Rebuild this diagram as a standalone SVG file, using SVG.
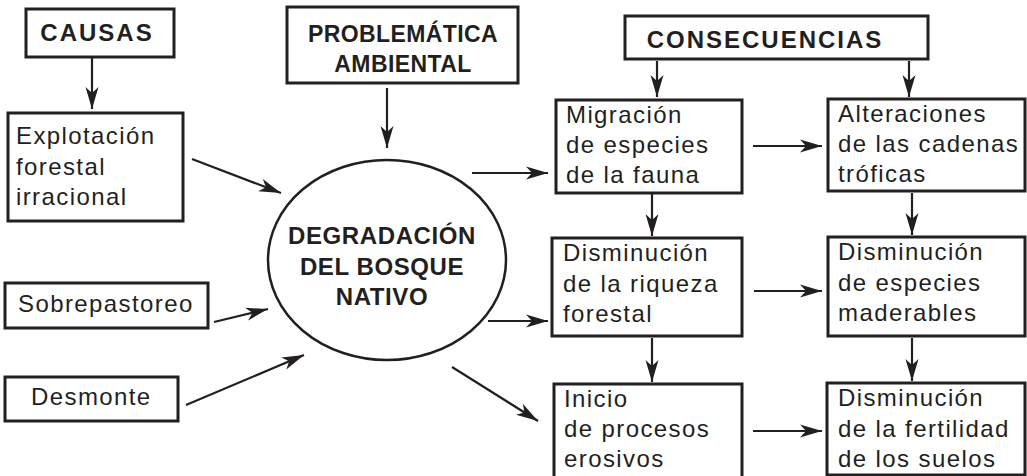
<svg xmlns="http://www.w3.org/2000/svg" width="1027" height="476" viewBox="0 0 1027 476">
<style>
.box{fill:#fff;stroke:#231f20;stroke-width:3}
.ell{fill:#fff;stroke:#231f20;stroke-width:2.5}
.t{font-family:"Liberation Sans",Arial,sans-serif;font-size:24px;fill:#231f20;letter-spacing:1.4px}
.h{font-family:"Liberation Sans",Arial,sans-serif;font-size:24px;font-weight:bold;fill:#231f20;text-anchor:middle}
.c line{stroke:#231f20;stroke-width:2.2;marker-end:url(#ah)}
</style>
<defs>
<marker id="ah" markerUnits="userSpaceOnUse" markerWidth="24" markerHeight="14" refX="22" refY="6.5" orient="auto" viewBox="0 0 24 13">
<path d="M0,0 L22,6.5 L0,13 L6,6.5 z" fill="#231f20"/>
</marker>
</defs>
<rect width="1027" height="476" fill="#fff"/>
<g class="c">
<line x1="92" y1="57" x2="92" y2="109"/>
<line x1="192" y1="159" x2="281" y2="193"/>
<line x1="387" y1="88" x2="387" y2="148"/>
<line x1="214" y1="322" x2="268" y2="309"/>
<line x1="186" y1="405" x2="304" y2="355"/>
<line x1="472" y1="173" x2="548" y2="173"/>
<line x1="488" y1="321" x2="548" y2="321"/>
<line x1="452" y1="367" x2="538" y2="421"/>
<line x1="657" y1="61" x2="657" y2="97"/>
<line x1="909" y1="61" x2="909" y2="97"/>
<line x1="753" y1="146" x2="822" y2="146"/>
<line x1="652" y1="194" x2="652" y2="236"/>
<line x1="912" y1="193" x2="912" y2="235"/>
<line x1="754" y1="291" x2="822" y2="291"/>
<line x1="652" y1="338" x2="652" y2="382"/>
<line x1="912" y1="338" x2="912" y2="381"/>
<line x1="753" y1="431" x2="822" y2="431"/>
</g>
<g id="causas">
<rect class="box" x="26" y="9" width="148" height="48"/>
<text class="h" x="97" y="41" style="letter-spacing:2px">CAUSAS</text>
</g>
<g id="problematica">
<rect class="box" x="287" y="7" width="231" height="76"/>
<text class="h" x="403" y="42" style="font-size:23px;letter-spacing:0.4px">PROBLEMÁTICA</text>
<text class="h" x="403" y="72" style="font-size:23px;letter-spacing:0.4px">AMBIENTAL</text>
</g>
<g id="consecuencias">
<rect class="box" x="625" y="16" width="303" height="43"/>
<text class="h" x="765" y="48" style="letter-spacing:2px">CONSECUENCIAS</text>
</g>
<g id="explotacion">
<rect class="box" x="8" y="113" width="175" height="108"/>
<text class="t" x="16" y="144">Explotación</text>
<text class="t" x="16" y="175">forestal</text>
<text class="t" x="16" y="205">irracional</text>
</g>
<g id="sobrepastoreo">
<rect class="box" x="5" y="283" width="203" height="45"/>
<text class="t" x="18" y="312">Sobrepastoreo</text>
</g>
<g id="desmonte">
<rect class="box" x="5" y="377" width="173" height="44"/>
<text class="t" x="31" y="405">Desmonte</text>
</g>
<g id="degradacion">
<ellipse class="ell" cx="387" cy="260" rx="119" ry="100"/>
<text class="h" x="382" y="244" style="letter-spacing:0.6px">DEGRADACIÓN</text>
<text class="h" x="382" y="275" style="letter-spacing:0.6px">DEL BOSQUE</text>
<text class="h" x="382" y="305" style="letter-spacing:0.6px">NATIVO</text>
</g>
<g id="migracion">
<rect class="box" x="556" y="100" width="186" height="93"/>
<text class="t" x="566" y="123">Migración</text>
<text class="t" x="566" y="153">de especies</text>
<text class="t" x="566" y="183">de la fauna</text>
</g>
<g id="alteraciones">
<rect class="box" x="828" y="99" width="197" height="92"/>
<text class="t" x="838" y="122">Alteraciones</text>
<text class="t" x="838" y="152">de las cadenas</text>
<text class="t" x="838" y="182">tróficas</text>
</g>
<g id="riqueza">
<rect class="box" x="552" y="238" width="190" height="98"/>
<text class="t" x="563" y="261">Disminución</text>
<text class="t" x="563" y="292">de la riqueza</text>
<text class="t" x="563" y="322">forestal</text>
</g>
<g id="maderables">
<rect class="box" x="828" y="237" width="197" height="99"/>
<text class="t" x="838" y="260">Disminución</text>
<text class="t" x="838" y="291">de especies</text>
<text class="t" x="838" y="321">maderables</text>
</g>
<g id="inicio">
<rect class="box" x="554" y="384" width="188" height="100"/>
<text class="t" x="564" y="407">Inicio</text>
<text class="t" x="564" y="437">de procesos</text>
<text class="t" x="564" y="467">erosivos</text>
</g>
<g id="fertilidad">
<rect class="box" x="827" y="383" width="198" height="92"/>
<text class="t" x="838" y="406">Disminución</text>
<text class="t" x="838" y="437">de la fertilidad</text>
<text class="t" x="838" y="467">de los suelos</text>
</g>
</svg>
